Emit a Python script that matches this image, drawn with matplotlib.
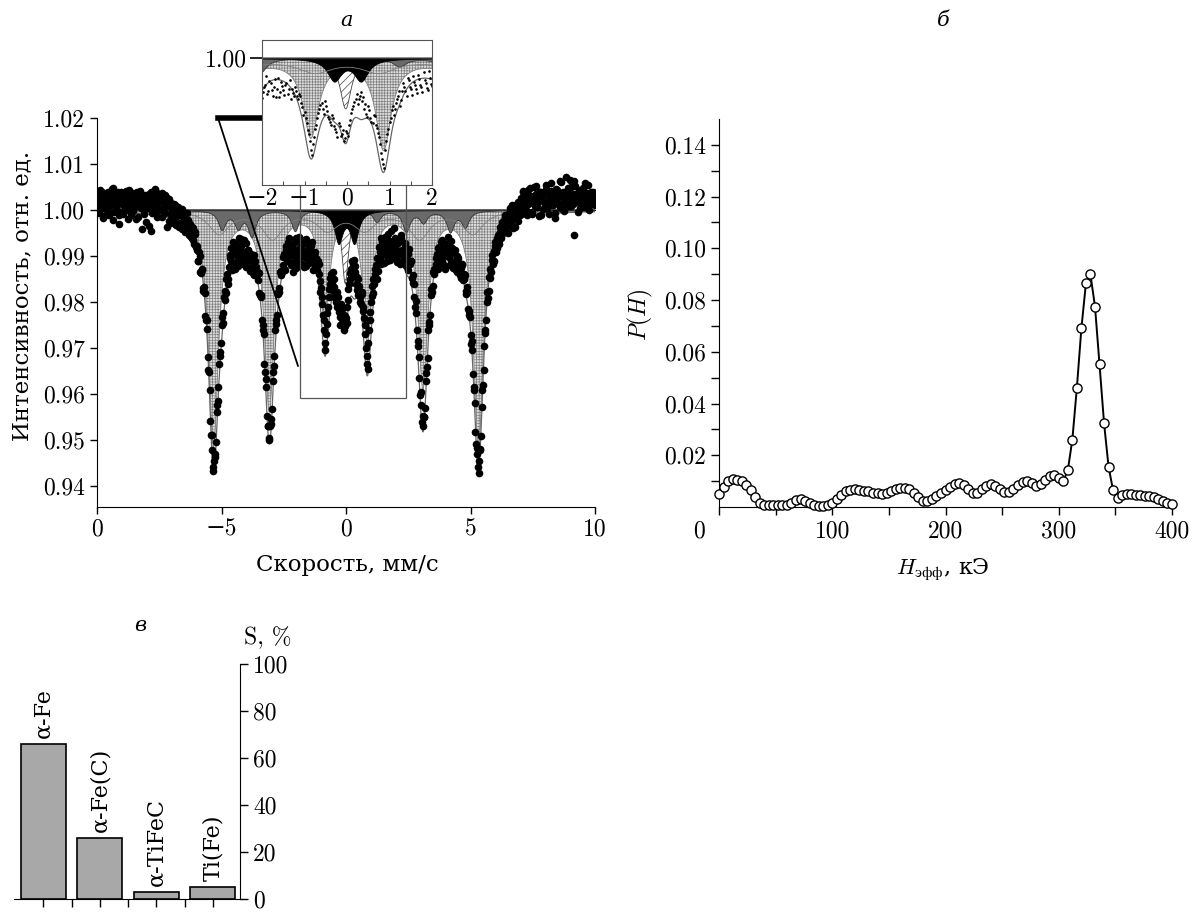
import numpy as np
import matplotlib
matplotlib.use("Agg")
from matplotlib import pyplot as plt
from matplotlib.patches import Rectangle

plt.rcParams['mathtext.fontset'] = 'cm'
plt.rcParams['hatch.linewidth'] = 0.5

NUM = ['cmr10', 'DejaVu Serif']
CYR = ['DejaVu Serif']

# ---- panel a: Mossbauer spectrum, intensity = 1 + k/10000 ----
# channels on the 0.05 mm/s grid, -10 ... 10
seg_a = [18, 32, -6, 24, 40, 4, -14, 28, 15, -3, 35, 10, 46, -22, 12, 27, 0, 38, -12, 20,
         30, -8, 14, 42, 6, -20, 25, 16, 36, -2, 22, 8, 40, -15, 18, 28, -42, 31, 10, -26,
         22, 4, 34, -45, -6, 26, 12, 40, -2, 18, 2, 30, -16, 22, 8, 32, -38, 16, 24, -28]
seg_b = [8, -20, 12, -30, -5, 6, -36, -12, 2, -40, -18, -8, -44, -22, -55, -30, -62, -40,
         -75, -52, -88]
seg_c = [-110, -92, -135, -128, -170, -168, -230, -240, -320, -352, -458, -490, -558, -545,
         -530, -440, -415, -335, -318, -250, -245, -190, -195, -150, -162]
seg_d = [-125, -98, -112, -70, -95, -128, -84, -110, -60, -102, -78, -118, -66, -92, -124,
         -88, -106, -132, -96, -120, -142, -110, -135]
seg_e = [-152, -138, -185, -190, -250, -270, -352, -385, -470, -495, -470, -455, -372, -340,
         -262, -240, -182, -178, -135, -142]
seg_f = [-120, -95, -130, -78, -105, -62, -98, -120, -84, -110, -70, -126, -92, -58, -104,
         -80, -118, -66, -96, -122, -74, -100, -86, -112, -70, -98, -120]
seg_g = [-105, -130, -118, -155, -170, -205, -240, -290, -270, -225,
         -190, -160, -140, -175, -150, -185, -200, -178, -215, -232,
         -205, -245, -228, -252, -235, -210, -172, -150, -128, -145,
         -118, -135, -160, -175, -150, -190, -205, -182, -220, -250,
         -300, -335, -290, -240, -200, -165, -180, -140, -120, -150, -105]
seg_h = [-92, -118, -70, -96, -58, -84, -110, -66, -90, -45, -78, -100, -62, -88, -114, -72,
         -96, -54, -86, -108, -76, -122, -94, -130, -110]
seg_i = [-112, -148, -142, -190, -198, -262, -285, -365, -396, -462, -448, -450, -372, -342,
         -262, -244, -184, -178, -134, -140]
seg_j = [-118, -96, -128, -80, -104, -66, -92, -120, -74, -100, -58, -88, -112, -82, -126,
         -94, -110, -136, -104, -124, -148]
seg_k = [-118, -152, -140, -176, -168, -215, -220, -272, -285, -356, -392, -482, -518, -560,
         -545, -520, -428, -380, -295, -268, -200, -192, -145, -148, -108, -118]
seg_l = [-90, -70, -82, -55, -66, -38, -52, -30, -46, -18, -35, -8, -28, 5, -20, -40, 2, -15,
         12, -25, 8, -10]
seg_m = [20, 38, 4, 26, -10, 44, 15, 30, -4, 22, 50, 8, 34, 18, -14, 40, 26, 2, 36, 12,
         55, 20, -8, 30, 42, 10, 24, -18, 46, 16, 32, 6, 60, 28, -2, 38, 14, 48, 22, 66,
         8, 34, -55, 52, 18, 30, 44, 4, 26, 38, 12, 58, 20, 32, 0, 24, 40, 14, 28, 10]

# channels half way between, -9.975 ... 9.975
mid_a = [5, 28, 44, 12, -18, 30, 20, 2, 38, -10, 24, 14, 48, -4, 32, 8, 26, -30, 16, 40,
         10, -2, 34, 22, 0, 44, 18, -12, 30, 6, 36, -20, 14, 26, 42, 4, 20, -8, 32, 12,
         28, -34, 16, 38, 2, 24, 46, 10, -16, 30, 20, 0, 36, 14, -6, 28, 8, -24, 18, -10]
mid_b = [-2, -25, 10, -32, -14, 0, -28, -10, -42, -20, -48, -26, -6, -50, -34, -58, -38,
         -66, -48, -80]
mid_c = [-78, -112, -100, -138, -130, -176, -180, -240, -258, -348, -392, -490, -522, -568,
         -538, -505, -425, -385, -308, -290, -232, -225, -176, -180, -140, -150]
mid_d = [-105, -82, -130, -92, -115, -74, -100, -122, -88, -64, -108, -96, -118, -72, -104,
         -86, -126, -100, -114, -138, -98, -124]
mid_e = [-138, -135, -180, -186, -240, -262, -335, -368, -448, -470, -500, -465, -432, -352,
         -318, -248, -228, -178, -170, -132, -136]
mid_f = [-102, -128, -86, -112, -70, -94, -116, -80, -136, -98, -60, -108, -84, -114, -72,
         -100, -90, -124, -64, -106, -88, -116, -78, -96, -130, -110, -92]
mid_g = [-120, -112, -140, -178, -190, -228, -262, -305, -248, -210,
         -172, -148, -162, -135, -168, -192, -210, -190, -222, -250,
         -215, -238, -262, -230, -245, -195, -160, -138, -112, -130,
         -108, -122, -145, -186, -165, -200, -178, -212, -235, -270,
         -318, -345, -262, -222, -188, -150, -162, -128, -104, -132]
mid_h = [-80, -104, -62, -90, -116, -74, -98, -52, -86, -108, -70, -94, -40, -82, -104, -66,
         -92, -118, -60, -88, -100, -72, -112, -96, -84, -118]
mid_i = [-112, -158, -160, -212, -225, -295, -320, -402, -425, -470, -450, -430, -355, -322,
         -250, -228, -172, -165, -128, -130]
mid_j = [-104, -82, -116, -90, -70, -110, -84, -128, -96, -76, -102, -120, -68, -94, -118,
         -88, -130, -100, -116, -142, -126]
mid_k = [-120, -150, -142, -182, -178, -228, -232, -292, -305, -385, -420, -510, -530, -572,
         -522, -492, -392, -348, -262, -240, -178, -176, -128, -135, -98, -110]
mid_l = [-78, -92, -60, -74, -48, -62, -26, -44, -10, -38, -22, -50, -4, -30, 10, -18, -36,
         0, -12, 18, -6]
mid_m = [26, 8, 42, 18, 0, 34, 12, 48, 22, -8, 30, 16, 52, 6, 28, 40, -12, 24, 36, 14,
         46, 4, 32, 20, 58, 10, 38, -6, 26, 44, 16, 62, 30, 2, 40, 18, 72, 24, 36, 8,
         50, 28, 14, 64, 20, 34, -4, 42, 16, 28, 48, 6, 36, 22, 54, 12, 30, 18, 40, 24]

counts = seg_a + seg_b + seg_c + seg_d + seg_e + seg_f + seg_g + seg_h + seg_i + seg_j + seg_k + seg_l + seg_m
counts_mid = mid_a + mid_b + mid_c + mid_d + mid_e + mid_f + mid_g + mid_h + mid_i + mid_j + mid_k + mid_l + mid_m
velocity = np.concatenate([np.linspace(-10, 10, 401), np.linspace(-9.975, 9.975, 400)])
intensity = 1 + np.array(counts + counts_mid) / 10000.0

# fitted sub-spectra: line positions (mm/s), depths, half widths
fe_pos = [-5.32, -3.08, -0.85, 0.86, 3.09, 5.32]
fe_depth = [0.051, 0.043, 0.024, 0.028, 0.038, 0.051]
fe_hw = [0.24, 0.24, 0.22, 0.22, 0.24, 0.24]

fec_pos = [-4.99, -4.34, -3.79, -2.05, 1.23, 2.41, 3.10, 4.18, 4.78]
fec_depth = [0.004, 0.0035, 0.0055, 0.0045, 0.0025, 0.0045, 0.0025, 0.0045, 0.0035]
fec_hw = [0.18] * 9

tifec_pos = [-0.30, 0.33]
tifec_depth = [0.0068, 0.0068]
tifec_hw = [0.2, 0.2]

tife_pos = [-0.03]
tife_depth = [0.016]
tife_hw = [0.16]

broad_pos = [-5.1, -2.95, -0.75, 0.75, 2.95, 5.1]
broad_depth = [0.005, 0.006, 0.004, 0.004, 0.006, 0.005]
broad_hw = [0.5] * 6

# ---- panel b: field distribution ----
h_field = np.linspace(0, 400, 101)
p_h = [0.0050, 0.0079, 0.0100, 0.0109, 0.0106, 0.0100, 0.0086, 0.0066, 0.0040, 0.0016,
       0.0006, 0.0006, 0.0006, 0.0006, 0.0006, 0.0009, 0.0016, 0.0028, 0.0031, 0.0025,
       0.0016, 0.0006, 0.0004, 0.0004, 0.0006, 0.0016, 0.0031, 0.0046, 0.0060, 0.0066,
       0.0069, 0.0066, 0.0063, 0.0060, 0.0056, 0.0053, 0.0049, 0.0053, 0.0061, 0.0069,
       0.0075, 0.0075, 0.0069, 0.0054, 0.0038, 0.0025, 0.0023, 0.0031, 0.0041, 0.0053,
       0.0066, 0.0079, 0.0090, 0.0094, 0.0084, 0.0069, 0.0056, 0.0056, 0.0069, 0.0081,
       0.0090, 0.0081, 0.0069, 0.0059, 0.0059, 0.0069, 0.0084, 0.0096, 0.0100, 0.0091,
       0.0081, 0.0090, 0.0106, 0.0121, 0.0125, 0.0113, 0.0100, 0.0142, 0.0260, 0.0461,
       0.0691, 0.0865, 0.0899, 0.0775, 0.0551, 0.0324, 0.0155, 0.0064, 0.0035, 0.0045,
       0.0049, 0.0049, 0.0046, 0.0045, 0.0044, 0.0042, 0.0039, 0.0032, 0.0022, 0.0016,
       0.0012]

# ---- panel c: phase areas ----
phases = ['α-Fe', 'α-Fe(C)', 'α-TiFeC', 'Ti(Fe)']
areas = [66, 26, 3, 5]


def lines(v, pos, depth, hw):
    out = np.zeros_like(v)
    for c, d, g in zip(pos, depth, hw):
        out += d / (1 + ((v - c) / g) ** 2)
    return out


vf = np.linspace(-10, 10, 4001)
fe = lines(vf, fe_pos, fe_depth, fe_hw)
fec = lines(vf, fec_pos, fec_depth, fec_hw)
tifec = lines(vf, tifec_pos, tifec_depth, tifec_hw)
tife = lines(vf, tife_pos, tife_depth, tife_hw)
broad = lines(vf, broad_pos, broad_depth, broad_hw)
total = 1 - (fe + fec + tifec + tife + broad)

W, H = 1192, 913
fig = plt.figure(figsize=(W / 100, H / 100), dpi=100)


def box(l, t, r, b):
    return [l / W, 1 - b / H, (r - l) / W, (b - t) / H]


def draw_spectrum(a, ms):
    a.fill_between(vf, 1, 1 - tife, facecolor='white', edgecolor='#444444', hatch='////', lw=0.6)
    a.fill_between(vf, 1, 1 - fe, facecolor='#dddddd', edgecolor='#808080', hatch='++++++', lw=0.6)
    a.fill_between(vf, 1, 1 - fec, facecolor='#6a6a6a', edgecolor='#333333', lw=0.6)
    a.fill_between(vf, 1, 1 - tifec, facecolor='black', edgecolor='black', lw=0.6)
    a.plot(vf, 1 - broad, color='#808080', lw=0.6)
    a.plot(vf, total, color='#666666', lw=0.9)
    a.axhline(1.0, color='#333333', lw=1.0)
    a.plot(velocity, intensity, 'o', color='black', ms=ms, mew=0)


# panel a
ax = fig.add_axes(box(97, 118, 595, 507))
draw_spectrum(ax, 5.5)
ax.set_xlim(-10, 10)
ax.set_ylim(0.9354, 1.02)
ax.spines['top'].set_visible(False)
ax.spines['right'].set_visible(False)
ax.set_xticks([-10, -5, 0, 5, 10])
ax.set_xticklabels(['0', '−5', '0', '5', '10'], fontfamily=NUM, fontsize=17)
yt = [0.94, 0.95, 0.96, 0.97, 0.98, 0.99, 1.00, 1.01, 1.02]
ax.set_yticks(yt)
ax.set_yticklabels(['%.2f' % t for t in yt], fontfamily=NUM, fontsize=17)
ax.tick_params(direction='out', length=5, width=1)
ax.add_patch(Rectangle((-1.85, 0.9591), 4.26, 0.0468, fill=False, edgecolor='#555555',
                       lw=0.9, clip_on=False, zorder=5))
ax.plot([-5.14, -1.93], [1.02, 0.9661], color='black', lw=1.3, clip_on=False, zorder=6)
ax.plot([-5.14, -3.37], [1.02, 1.02], color='black', lw=4, clip_on=False, zorder=6)

# inset
axi = fig.add_axes(box(262, 40, 432, 185))
draw_spectrum(axi, 1.9)
axi.set_xlim(-2, 2)
axi.set_ylim(0.960, 1.0057)
for s in axi.spines.values():
    s.set_color('#555555')
    s.set_linewidth(0.8)
axi.set_xticks([-2, -1, 0, 1, 2])
axi.set_xticks(np.arange(-1.5, 2, 1.0), minor=True)
axi.set_xticklabels(['−2', '−1', '0', '1', '2'], fontfamily=NUM, fontsize=17)
axi.tick_params(axis='x', which='both', direction='in', length=3, width=0.8, color='#555555', pad=2)
axi.set_yticks([1.00])
axi.set_yticklabels(['1.00'], fontfamily=NUM, fontsize=17)
axi.tick_params(axis='y', direction='out', length=9, width=1.2, color='black', pad=2)

fig.text(347 / W, 1 - 20 / H, 'а', fontfamily=CYR, fontstyle='italic',
         fontsize=15, ha='center', va='center')
fig.text(22 / W, 1 - 296 / H, 'Интенсивность, отн. ед.', fontfamily=CYR, fontsize=16.5,
         rotation=90, ha='center', va='center')
fig.text(347 / W, 1 - 565 / H, 'Скорость, мм/с', fontfamily=CYR, fontsize=16.5,
         ha='center', va='center')

# panel b
axb = fig.add_axes(box(719, 119, 1172, 507))
axb.plot(h_field, p_h, '-o', color='black', mfc='white', mec='black', ms=6.6, mew=1.0,
         lw=1.4, clip_on=False, zorder=3)
axb.set_xlim(0, 400)
axb.set_ylim(0, 0.15)
axb.spines['top'].set_visible(False)
axb.spines['right'].set_visible(False)
axb.set_xticks([0, 100, 200, 300, 400])
axb.set_xticklabels(['', '100', '200', '300', '400'], fontfamily=NUM, fontsize=17)
axb.set_xticks(np.arange(50, 400, 100), minor=True)
axb.set_yticks(np.arange(0.02, 0.141, 0.02))
axb.set_yticklabels(['0.02', '0.04', '0.06', '0.08', '0.10', '0.12', '0.14'],
                    fontfamily=NUM, fontsize=17)
axb.set_yticks(np.arange(0.01, 0.14, 0.02), minor=True)
axb.tick_params(which='both', direction='out', length=6, width=1)
axb.text(-18, -0.0052, '0', fontfamily=NUM, fontsize=17, ha='center', va='top')
fig.text(640 / W, 1 - 315 / H, r'$P(H)$', fontsize=17, rotation=90, ha='center', va='center')
fig.text(943 / W, 1 - 570 / H, r'$H_{\rm эфф}$, кЭ', fontfamily=CYR, fontsize=16,
         ha='center', va='center')
fig.text(943 / W, 1 - 20 / H, 'б', fontfamily=CYR, fontstyle='italic',
         fontsize=15, ha='center', va='center')

# panel c
axc = fig.add_axes(box(14, 664, 240, 899))
xs = np.arange(len(phases))
axc.bar(xs, areas, width=0.8, color='#a8a8a8', edgecolor='black', lw=1.2)
for x, a, lab in zip(xs, areas, phases):
    axc.text(x, a + 2.5, lab, rotation=90, ha='center', va='bottom', fontfamily=CYR, fontsize=16)
axc.set_xlim(-0.52, 3.48)
axc.set_ylim(0, 100)
axc.spines['top'].set_visible(False)
axc.spines['left'].set_visible(False)
axc.yaxis.tick_right()
axc.set_yticks([0, 20, 40, 60, 80, 100])
axc.set_yticklabels(['0', '20', '40', '60', '80', '100'], fontfamily=NUM, fontsize=17)
axc.set_xticks(np.arange(0, 3.01, 0.5))
axc.set_xticklabels([])
axc.tick_params(direction='out', length=6, width=1)
fig.text(268 / W, 1 - 638 / H, 'S, %', fontfamily=NUM, fontsize=17, ha='center', va='center')
fig.text(140 / W, 1 - 625 / H, 'в', fontfamily=CYR, fontstyle='italic',
         fontsize=15, ha='center', va='center')

fig.savefig('out.png', dpi=100)
